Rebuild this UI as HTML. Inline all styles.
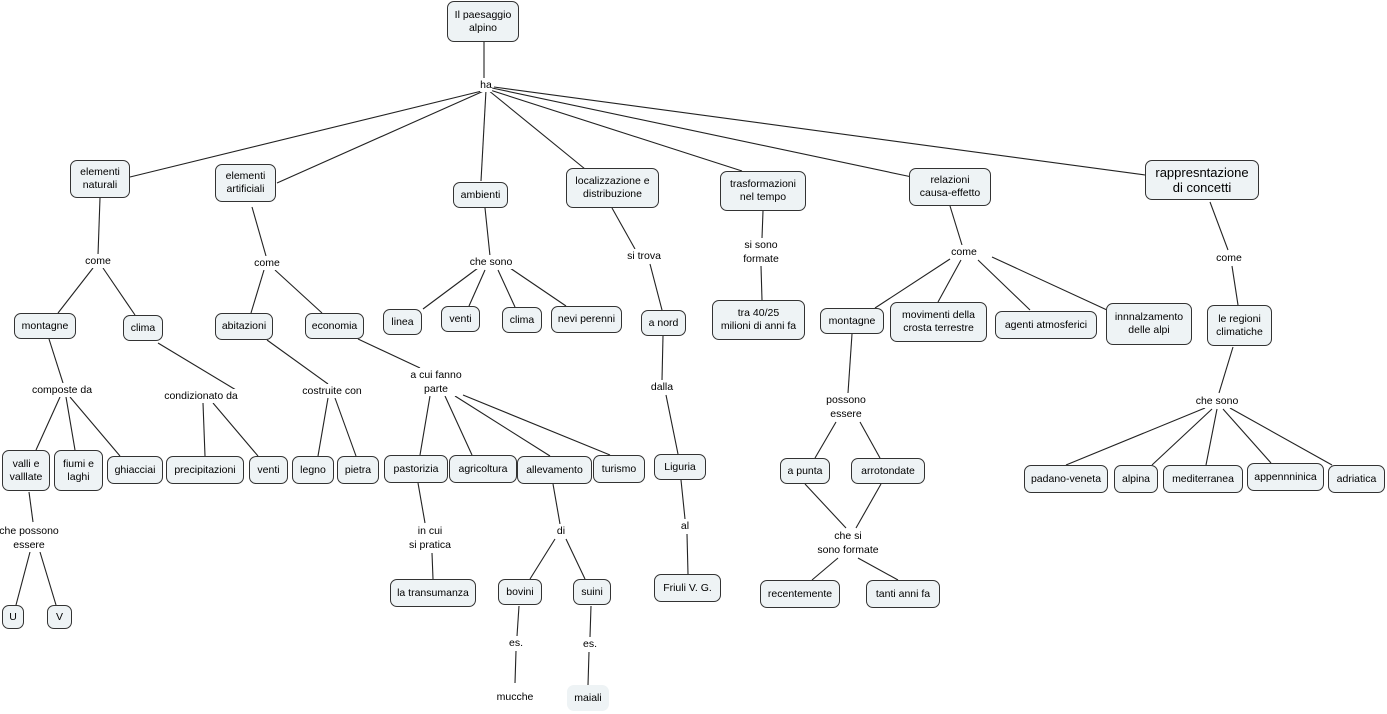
<!DOCTYPE html>
<html><head><meta charset="utf-8"><style>
body{margin:0;background:#fff;}
#c{position:relative;width:1387px;height:714px;overflow:hidden;font-family:"Liberation Sans",sans-serif;color:#000;}
.n{position:absolute;border:1.3px solid #333;border-radius:7px;background:#eef3f5;display:flex;align-items:center;justify-content:center;text-align:center;font-size:10.5px;line-height:13px;box-sizing:border-box;white-space:pre;}
.l{position:absolute;transform:translate(-50%,-50%);font-size:10.5px;line-height:14px;text-align:center;white-space:pre;background:#fff;}
svg{position:absolute;left:0;top:0;}
line{stroke:#222;stroke-width:1.1;}
</style></head><body><div id="c">
<svg width="1387" height="714">
<line x1="484" y1="42" x2="484" y2="80"/>
<line x1="486" y1="90" x2="130" y2="177"/>
<line x1="486" y1="90" x2="277" y2="183"/>
<line x1="486" y1="90" x2="481" y2="181"/>
<line x1="488" y1="90" x2="585" y2="169"/>
<line x1="490" y1="90" x2="742" y2="171"/>
<line x1="492" y1="88" x2="912" y2="177"/>
<line x1="494" y1="87" x2="1145" y2="175"/>
<line x1="100" y1="198" x2="98" y2="255"/>
<line x1="93" y1="268" x2="58" y2="313"/>
<line x1="103" y1="268" x2="135" y2="315"/>
<line x1="49" y1="339" x2="63" y2="383"/>
<line x1="60" y1="397" x2="36" y2="450"/>
<line x1="66" y1="397" x2="75" y2="450"/>
<line x1="70" y1="397" x2="120" y2="456"/>
<line x1="29" y1="492" x2="33" y2="522"/>
<line x1="30" y1="552" x2="16" y2="605"/>
<line x1="40" y1="552" x2="56" y2="605"/>
<line x1="158" y1="343" x2="236" y2="390"/>
<line x1="203" y1="403" x2="205" y2="456"/>
<line x1="213" y1="403" x2="258" y2="456"/>
<line x1="252" y1="207" x2="266" y2="256"/>
<line x1="264" y1="270" x2="251" y2="313"/>
<line x1="275" y1="270" x2="322" y2="313"/>
<line x1="267" y1="340" x2="328" y2="384"/>
<line x1="328" y1="398" x2="318" y2="456"/>
<line x1="335" y1="398" x2="356" y2="456"/>
<line x1="358" y1="339" x2="420" y2="368"/>
<line x1="430" y1="396" x2="420" y2="455"/>
<line x1="445" y1="396" x2="472" y2="455"/>
<line x1="455" y1="396" x2="550" y2="456"/>
<line x1="463" y1="395" x2="610" y2="455"/>
<line x1="418" y1="483" x2="425" y2="523"/>
<line x1="432" y1="553" x2="433" y2="579"/>
<line x1="553" y1="484" x2="560" y2="524"/>
<line x1="555" y1="539" x2="530" y2="579"/>
<line x1="566" y1="539" x2="585" y2="579"/>
<line x1="519" y1="606" x2="517" y2="636"/>
<line x1="516" y1="651" x2="515" y2="683"/>
<line x1="591" y1="606" x2="590" y2="637"/>
<line x1="589" y1="652" x2="588" y2="685"/>
<line x1="485" y1="208" x2="490" y2="256"/>
<line x1="478" y1="268" x2="423" y2="309"/>
<line x1="485" y1="270" x2="469" y2="306"/>
<line x1="498" y1="270" x2="515" y2="307"/>
<line x1="510" y1="268" x2="566" y2="306"/>
<line x1="612" y1="208" x2="635" y2="249"/>
<line x1="650" y1="264" x2="662" y2="310"/>
<line x1="663" y1="336" x2="662" y2="380"/>
<line x1="666" y1="395" x2="678" y2="454"/>
<line x1="681" y1="480" x2="685" y2="519"/>
<line x1="687" y1="534" x2="688" y2="574"/>
<line x1="763" y1="211" x2="762" y2="238"/>
<line x1="761" y1="266" x2="762" y2="300"/>
<line x1="950" y1="206" x2="962" y2="245"/>
<line x1="950" y1="259" x2="875" y2="308"/>
<line x1="961" y1="260" x2="938" y2="302"/>
<line x1="978" y1="260" x2="1030" y2="310"/>
<line x1="992" y1="257" x2="1107" y2="310"/>
<line x1="852" y1="334" x2="848" y2="393"/>
<line x1="836" y1="422" x2="815" y2="458"/>
<line x1="860" y1="422" x2="880" y2="458"/>
<line x1="805" y1="484" x2="846" y2="528"/>
<line x1="881" y1="484" x2="856" y2="528"/>
<line x1="838" y1="558" x2="812" y2="580"/>
<line x1="858" y1="558" x2="898" y2="580"/>
<line x1="1210" y1="202" x2="1228" y2="250"/>
<line x1="1232" y1="266" x2="1238" y2="305"/>
<line x1="1233" y1="347" x2="1219" y2="393"/>
<line x1="1205" y1="408" x2="1066" y2="465"/>
<line x1="1212" y1="409" x2="1152" y2="465"/>
<line x1="1217" y1="409" x2="1206" y2="465"/>
<line x1="1223" y1="409" x2="1271" y2="463"/>
<line x1="1230" y1="408" x2="1332" y2="465"/>
</svg>

<div class="n" style="left:447px;top:1px;width:72px;height:41px">Il paesaggio
alpino</div>
<div class="l" style="left:486px;top:85px">ha</div>
<div class="n" style="left:70px;top:160px;width:60px;height:38px">elementi
naturali</div>
<div class="n" style="left:215px;top:164px;width:61px;height:38px">elementi
artificiali</div>
<div class="n" style="left:453px;top:182px;width:55px;height:26px">ambienti</div>
<div class="n" style="left:566px;top:168px;width:93px;height:40px">localizzazione e
distribuzione</div>
<div class="n" style="left:720px;top:171px;width:86px;height:40px">trasformazioni
nel tempo</div>
<div class="n" style="left:909px;top:168px;width:82px;height:38px">relazioni
causa-effetto</div>
<div class="n" style="left:1145px;top:160px;width:114px;height:40px;font-size:13px;line-height:15px">rappresntazione
di concetti</div>

<div class="l" style="left:98px;top:261px">come</div>
<div class="l" style="left:267px;top:263px">come</div>
<div class="l" style="left:491px;top:262px">che sono</div>
<div class="l" style="left:644px;top:256px">si trova</div>
<div class="l" style="left:761px;top:252px">si sono
formate</div>
<div class="l" style="left:964px;top:252px">come</div>
<div class="l" style="left:1229px;top:258px">come</div>

<div class="n" style="left:14px;top:313px;width:62px;height:26px">montagne</div>
<div class="n" style="left:123px;top:315px;width:40px;height:26px">clima</div>
<div class="n" style="left:215px;top:313px;width:58px;height:27px">abitazioni</div>
<div class="n" style="left:305px;top:313px;width:59px;height:26px">economia</div>
<div class="n" style="left:383px;top:309px;width:39px;height:26px">linea</div>
<div class="n" style="left:441px;top:306px;width:39px;height:26px">venti</div>
<div class="n" style="left:502px;top:307px;width:40px;height:26px">clima</div>
<div class="n" style="left:551px;top:306px;width:71px;height:27px">nevi perenni</div>
<div class="n" style="left:641px;top:310px;width:45px;height:26px">a nord</div>
<div class="n" style="left:712px;top:300px;width:93px;height:40px">tra 40/25
milioni di anni fa</div>
<div class="n" style="left:820px;top:308px;width:64px;height:26px">montagne</div>
<div class="n" style="left:890px;top:302px;width:97px;height:40px">movimenti della
crosta terrestre</div>
<div class="n" style="left:995px;top:311px;width:102px;height:28px">agenti atmosferici</div>
<div class="n" style="left:1106px;top:303px;width:86px;height:42px">innnalzamento
delle alpi</div>
<div class="n" style="left:1207px;top:305px;width:65px;height:41px">le regioni
climatiche</div>

<div class="l" style="left:62px;top:390px">composte da</div>
<div class="l" style="left:201px;top:396px">condizionato da</div>
<div class="l" style="left:332px;top:391px">costruite con</div>
<div class="l" style="left:436px;top:382px">a cui fanno
parte</div>
<div class="l" style="left:662px;top:387px">dalla</div>
<div class="l" style="left:846px;top:407px">possono
essere</div>
<div class="l" style="left:1217px;top:401px">che sono</div>

<div class="n" style="left:2px;top:450px;width:48px;height:41px">valli e
valllate</div>
<div class="n" style="left:54px;top:450px;width:49px;height:41px">fiumi e
laghi</div>
<div class="n" style="left:107px;top:456px;width:56px;height:28px">ghiacciai</div>
<div class="n" style="left:166px;top:456px;width:78px;height:28px">precipitazioni</div>
<div class="n" style="left:249px;top:456px;width:39px;height:28px">venti</div>
<div class="n" style="left:292px;top:456px;width:42px;height:28px">legno</div>
<div class="n" style="left:337px;top:456px;width:42px;height:28px">pietra</div>
<div class="n" style="left:384px;top:455px;width:64px;height:28px">pastorizia</div>
<div class="n" style="left:449px;top:455px;width:68px;height:28px">agricoltura</div>
<div class="n" style="left:517px;top:456px;width:75px;height:28px">allevamento</div>
<div class="n" style="left:593px;top:455px;width:52px;height:28px">turismo</div>
<div class="n" style="left:654px;top:454px;width:52px;height:26px">Liguria</div>
<div class="n" style="left:780px;top:458px;width:50px;height:26px">a punta</div>
<div class="n" style="left:851px;top:458px;width:74px;height:26px">arrotondate</div>
<div class="n" style="left:1024px;top:465px;width:84px;height:28px">padano-veneta</div>
<div class="n" style="left:1114px;top:465px;width:44px;height:28px">alpina</div>
<div class="n" style="left:1163px;top:465px;width:80px;height:28px">mediterranea</div>
<div class="n" style="left:1247px;top:463px;width:77px;height:28px">appennninica</div>
<div class="n" style="left:1328px;top:465px;width:57px;height:28px">adriatica</div>

<div class="l" style="left:29px;top:538px">che possono
essere</div>
<div class="l" style="left:430px;top:538px">in cui
si pratica</div>
<div class="l" style="left:561px;top:531px">di</div>
<div class="l" style="left:685px;top:526px">al</div>
<div class="l" style="left:848px;top:543px">che si
sono formate</div>

<div class="n" style="left:390px;top:579px;width:86px;height:28px">la transumanza</div>
<div class="n" style="left:498px;top:579px;width:44px;height:26px">bovini</div>
<div class="n" style="left:573px;top:579px;width:38px;height:26px">suini</div>
<div class="n" style="left:654px;top:574px;width:67px;height:28px">Friuli V. G.</div>
<div class="n" style="left:760px;top:580px;width:80px;height:28px">recentemente</div>
<div class="n" style="left:866px;top:580px;width:74px;height:28px">tanti anni fa</div>
<div class="n" style="left:2px;top:605px;width:22px;height:24px">U</div>
<div class="n" style="left:47px;top:605px;width:25px;height:24px">V</div>

<div class="l" style="left:516px;top:643px">es.</div>
<div class="l" style="left:590px;top:644px">es.</div>
<div class="l" style="left:515px;top:697px">mucche</div>
<div class="n" style="left:567px;top:685px;width:42px;height:26px;border:none">maiali</div>
</div></body></html>
